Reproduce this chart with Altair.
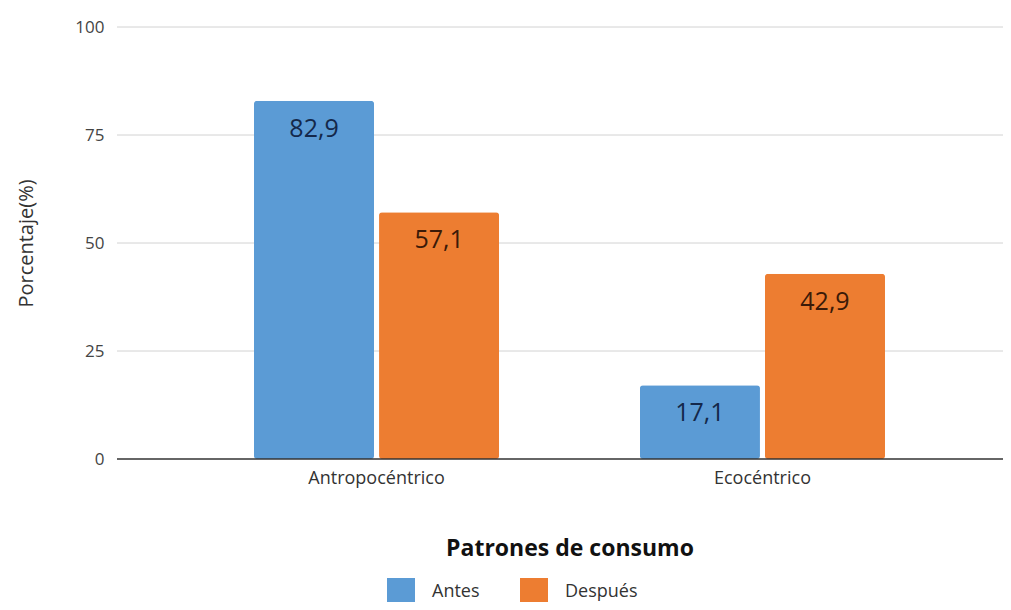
import altair as alt
import pandas as pd

categorias = ["Antropocéntrico", "Ecocéntrico"]
periodos = ["Antes", "Después"]
antes = [82.9, 17.1]
despues = [57.1, 42.9]
colores = ["#5B9BD5", "#ED7D31"]
ticks_y = [0, 25, 50, 75, 100]

rows = []
for i, c in enumerate(categorias):
    for p, vals in zip(periodos, [antes, despues]):
        v = vals[i]
        rows.append({"grupo": c, "periodo": p, "valor": v,
                     "etiqueta": f"{v:.1f}".replace(".", ",")})
df = pd.DataFrame(rows)

FONT = "Open Sans"

y_scale = alt.Scale(domain=[0, 100])
x_scale = alt.Scale(range=[137, 768], paddingInner=0.365, paddingOuter=0)
xo_scale = alt.Scale(paddingInner=0.04, paddingOuter=0)

x_axis = alt.Axis(title="Patrones de consumo", labelAngle=0, ticks=False,
                  domain=False, grid=False, labelPadding=10, titlePadding=50,
                  labelFontSize=18, labelColor="#333333", labelFont=FONT,
                  titleFontSize=23, titleFontWeight="bold", titleColor="#111111",
                  titleFont=FONT)
y_axis = alt.Axis(title="Porcentaje(%)", values=ticks_y,
                  ticks=False, domain=False, grid=False, labelPadding=13,
                  labelFontSize=17, labelColor="#444444", labelFont=FONT,
                  titleFontSize=20, titleFontWeight="normal", titleColor="#333333",
                  titleFont=FONT, titlePadding=38)

grid = alt.Chart(pd.DataFrame({"valor": ticks_y[1:]})).mark_rule(
    color="#d2d2d2", strokeWidth=1).encode(y=alt.Y("valor:Q", scale=y_scale, axis=y_axis))

bars = alt.Chart(df).mark_bar(cornerRadius=3).encode(
    x=alt.X("grupo:N", sort=categorias, scale=x_scale, axis=x_axis),
    xOffset=alt.XOffset("periodo:N", sort=periodos, scale=xo_scale),
    y=alt.Y("valor:Q", scale=y_scale, axis=y_axis),
    color=alt.Color("periodo:N", sort=periodos,
                    scale=alt.Scale(domain=periodos, range=colores),
                    legend=alt.Legend(title=None, orient="none", direction="horizontal",
                                      legendX=270, legendY=551,
                                      symbolType="square", symbolSize=784,
                                      symbolStrokeWidth=0, symbolOpacity=1,
                                      labelFontSize=18, labelFont=FONT,
                                      labelColor="#333333", labelOffset=17,
                                      columnPadding=40)),
)

labels = alt.Chart(df).mark_text(baseline="middle", dy=28, fontSize=25, font=FONT).encode(
    x=alt.X("grupo:N", sort=categorias, scale=x_scale, axis=x_axis),
    xOffset=alt.XOffset("periodo:N", sort=periodos, scale=xo_scale),
    y=alt.Y("valor:Q", scale=y_scale, axis=y_axis), text="etiqueta:N",
    color=alt.condition("datum.periodo == 'Antes'", alt.value("#14284a"), alt.value("#3b1a08")),
)

zero = alt.Chart(pd.DataFrame({"valor": [0]})).mark_rule(color="#333333", strokeWidth=1.5).encode(
    y=alt.Y("valor:Q", scale=y_scale, axis=y_axis))

chart = alt.layer(grid, bars, labels, zero).properties(
    width=886, height=432,
    background="white",
    autosize=alt.AutoSizeParams(type="none"),
    padding={"left": 109, "top": 19, "right": 0, "bottom": 143},
).configure_view(strokeWidth=0, stroke="transparent")

chart.save("out.html", embed_options={"renderer": "svg", "actions": False})
